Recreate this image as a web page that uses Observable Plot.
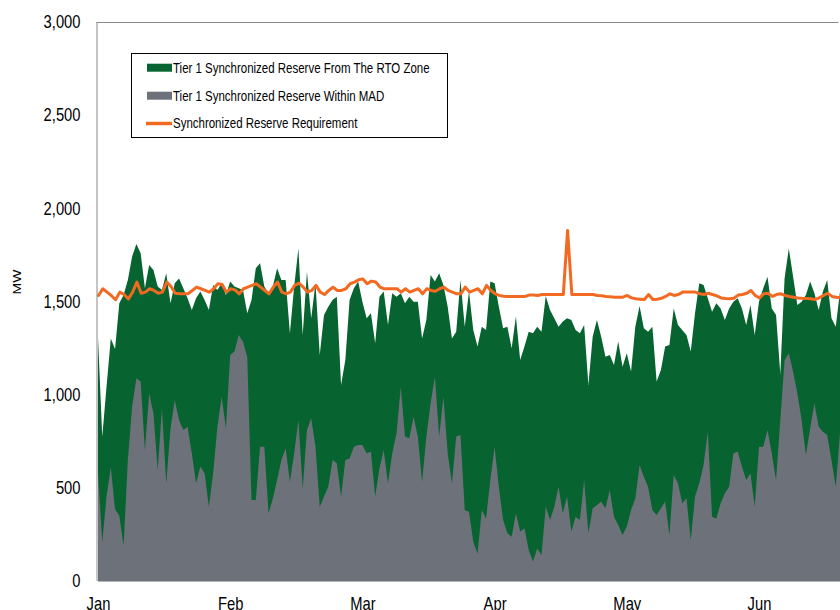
<!DOCTYPE html>
<html><head><meta charset="utf-8">
<script src="https://cdn.jsdelivr.net/npm/d3@7"></script>
<script src="https://cdn.jsdelivr.net/npm/@observablehq/plot@0.6"></script>
<style>
body{margin:0;background:#fff;}
#chart{position:relative;width:840px;height:610px;overflow:hidden;}
</style></head><body><div id="chart"></div>
<script>
// Tier 1 synchronized reserve from the RTO zone (MW), daily
const rtoZone = [1305,775,1043,1302,1245,1490,1535,1615,1741,1809,1759,1571,1696,1669,1580,1562,1651,1490,1598,1624,1571,1517,1454,1517,1553,1508,1454,1589,1562,1598,1535,1607,1580,1571,1562,1437,1508,1678,1705,1580,1544,1580,
1678,1615,1615,1329,1580,1785,1320,1660,1410,1598,1213,1428,1472,1508,1526,1052,1186,1508,1571,1607,1499,1410,1437,1276,1526,1553,1374,1544,1526,1544,1490,1526,1499,1499,1302,1401,1642,1607,1651,1589,1472,1302,1338,1615,
1365,1553,1347,1258,1365,1347,1607,1598,1472,1356,1365,1249,1419,1186,1258,1338,1329,1365,1338,1530,1454,1410,1365,1392,1410,1401,1347,1329,1374,1052,1311,1401,1311,1204,1213,1159,1285,1150,1222,1124,1365,1476,
1356,1338,1365,1070,1132,1258,1267,1463,1374,1347,1320,1231,1437,1598,1589,1517,1445,1490,1463,1401,1463,1499,1517,1463,1374,1481,1320,1499,1571,1633,1463,1428,1111,1624,1785,1633,1481,1499,1535,1607,1544,1454,1553,1615,1410,1365,1553];
// Tier 1 synchronized reserve within MAD (MW), daily
const withinMAD = [580,210,455,610,385,350,190,649,936,1088,1070,703,1007,900,596,927,524,819,971,864,810,828,685,524,614,578,399,578,828,989,819,1213,1231,1320,1284,1204,435,435,721,721,363,444,
542,649,712,533,685,864,497,810,873,721,399,453,506,649,632,453,649,658,721,730,730,685,694,453,605,703,524,685,793,1043,775,766,882,775,533,775,954,1097,775,989,685,524,775,784,
381,372,211,148,381,336,542,721,506,327,256,238,363,265,283,166,104,175,140,399,327,399,506,363,453,265,345,327,542,256,390,408,426,390,488,345,301,247,292,381,444,623,
560,506,381,354,390,426,247,569,524,417,444,220,453,524,623,801,345,336,417,471,506,685,694,614,542,578,399,721,721,810,685,542,864,1186,1222,1124,1007,864,676,819,954,828,801,784,649,506,793];
// Synchronized reserve requirement (MW), daily
const requirement = [1535,1571,1553,1535,1512,1553,1540,1517,1553,1607,1547,1553,1571,1562,1547,1553,1607,1583,1547,1544,1544,1544,1562,1580,1571,1562,1553,1571,1598,1594,1553,1571,1565,1544,1571,1580,1589,1598,1580,1562,1544,1580,
1607,1553,1544,1553,1589,1601,1580,1553,1562,1589,1553,1540,1562,1580,1562,1562,1571,1598,1607,1619,1624,1598,1612,1607,1580,1571,1571,1571,1571,1553,1571,1553,1562,1571,1544,1571,1562,1558,1571,1580,1562,1553,1544,1544,
1580,1553,1562,1571,1544,1589,1562,1544,1535,1531,1530,1530,1530,1530,1530,1537,1537,1535,1540,1540,1540,1540,1540,1540,1884,1540,1540,1540,1540,1540,1540,1535,1533,1530,1528,1526,1526,1526,1535,1522,1517,1515,
1513,1540,1513,1515,1520,1530,1544,1535,1540,1553,1553,1553,1553,1544,1540,1547,1540,1533,1522,1519,1517,1520,1537,1540,1547,1562,1535,1522,1544,1547,1530,1540,1544,1535,1530,1526,1522,1520,1519,1517,1513,1522,1535,1547,1530,1526,1522];

const monthLabels = ["Jan","Feb","Mar","Apr","May","Jun"];
const monthTickIndex = [0,31,62,93,124,155];
const yTicks = [0,500,1000,1500,2000,2500,3000];
const seriesNames = [
  "Tier 1 Synchronized Reserve From The RTO Zone",
  "Tier 1 Synchronized Reserve Within MAD",
  "Synchronized Reserve Requirement"
];
const yLabel = "MW";

const rows = rtoZone.map((v, i) => ({i, rto: v, mad: withinMAD[i], req: requirement[i]}));

const FONT = "'Liberation Sans',Arial,sans-serif";
const SQUEEZE = 0.82; // narrow-type horizontal compression
const GREEN = "#07632F", GRAY = "#6C717A", ORANGE = "#F26A21";

const plot = Plot.plot({
  width: 840, height: 610,
  marginLeft: 98, marginRight: 0, marginTop: 22, marginBottom: 29,
  style: {fontFamily: FONT, fontSize: "18px", color: "#000", background: "#fff", overflow: "hidden"},
  x: {domain: [0, 174], axis: null},
  y: {domain: [0, 3000], axis: null},
  marks: [
    Plot.areaY(rows, {x: "i", y: "rto", fill: GREEN}),
    Plot.areaY(rows, {x: "i", y: "mad", fill: GRAY}),
    Plot.lineY(rows, {x: "i", y: "req", stroke: ORANGE, strokeWidth: 3}),
    Plot.ruleY([3000], {stroke: "#8a8a8a", dx: -1.5}),
    Plot.ruleY([0], {stroke: "#b5b5b5"}),
    Plot.ruleX([0], {stroke: "#8a8a8a", dx: -1.5}),
    Plot.axisY(yTicks, {tickSize: 0, tickPadding: 18, tickFormat: d3.format(","), fontSize: 18, label: null}),
    Plot.axisX(monthTickIndex, {tickSize: 0, tickPadding: 16, fontSize: 18, label: null,
      tickFormat: d => monthLabels[monthTickIndex.indexOf(d)]})
  ]
});
document.getElementById("chart").appendChild(plot);

const svgNode = plot.tagName.toLowerCase() === "svg" ? plot : plot.querySelector("svg");
const svg = d3.select(svgNode);

// compress axis tick texts horizontally about their anchor point (narrow type look)
Array.from(svgNode.querySelectorAll("text")).forEach(el => {
  const r = el.getBoundingClientRect();
  if (!r.width) return;
  const anchor = getComputedStyle(el).textAnchor || "start";
  const cx = anchor === "end" ? r.right : anchor === "middle" ? (r.left + r.right) / 2 : r.left;
  const parent = el.parentNode;
  const pt = svgNode.createSVGPoint();
  pt.x = cx; pt.y = r.top;
  const q = pt.matrixTransform(parent.getScreenCTM().inverse());
  const g = document.createElementNS("http://www.w3.org/2000/svg", "g");
  g.setAttribute("transform", `translate(${q.x},0) scale(${SQUEEZE},1) translate(${-q.x},0)`);
  parent.insertBefore(g, el);
  g.appendChild(el);
});

// y-axis title
svg.append("text")
  .attr("transform", `translate(21,282) scale(${SQUEEZE},1) rotate(-90)`)
  .attr("text-anchor", "middle")
  .attr("font-family", FONT).attr("font-size", 14)
  .text(yLabel);

// legend
const lg = svg.append("g").attr("font-family", FONT).attr("font-size", 14).attr("text-anchor", "start");
lg.append("rect").attr("x", 131.5).attr("y", 53.5).attr("width", 316).attr("height", 84)
  .attr("fill", "#fff").attr("stroke", "#000").attr("stroke-width", 1);
const rowsY = [67.7, 95.7, 123.5];
lg.append("rect").attr("x", 147).attr("y", rowsY[0] - 4).attr("width", 25).attr("height", 8).attr("fill", GREEN);
lg.append("rect").attr("x", 147).attr("y", rowsY[1] - 4).attr("width", 25).attr("height", 8).attr("fill", GRAY);
lg.append("line").attr("x1", 146).attr("x2", 172).attr("y1", rowsY[2]).attr("y2", rowsY[2])
  .attr("stroke", ORANGE).attr("stroke-width", 3.5);
seriesNames.forEach((name, k) => {
  lg.append("text")
    .attr("transform", `translate(173,${rowsY[k]}) scale(${SQUEEZE},1)`)
    .attr("dy", "0.35em").text(name);
});
</script>
</body></html>
